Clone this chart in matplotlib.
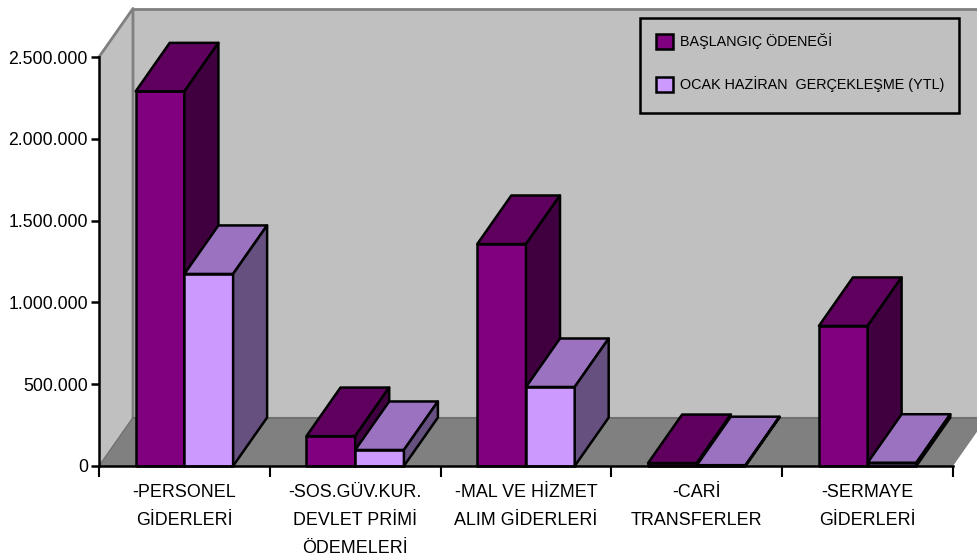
import matplotlib.pyplot as plt
from matplotlib.patches import Polygon, Patch, Rectangle

plt.rcParams['font.family'] = ['Liberation Sans', 'DejaVu Sans']

categories = ['-PERSONEL\nGİDERLERİ', '-SOS.GÜV.KUR.\nDEVLET PRİMİ\nÖDEMELERİ',
              '-MAL VE HİZMET\nALIM GİDERLERİ', '-CARİ\nTRANSFERLER', '-SERMAYE\nGİDERLERİ']
baslangic = [2290000, 183000, 1357000, 18000, 856000]
gerceklesme = [1174000, 98000, 483000, 5000, 20000]
yticks = [0, 500000, 1000000, 1500000, 2000000, 2500000]
yticklabels = ['0', '500.000', '1.000.000', '1.500.000', '2.000.000', '2.500.000']

W, H = 978, 557
# depth of the fake 3d box, in data units
dx = 34 / 170.8
dy = 48.5 / 409 * 2500000
bw = 48.7 / 170.8

fig = plt.figure(figsize=(W / 100, H / 100), dpi=100)
ax = fig.add_axes([99 / W, (H - 466) / H, 854 / W, 409 / H])
ax.set_xlim(0, 5)
ax.set_ylim(0, 2500000)
ax.patch.set_visible(False)


def poly(pts, fc, ec='none', lw=0, z=1):
    ax.add_patch(Polygon(pts, closed=True, facecolor=fc, edgecolor=ec, linewidth=lw,
                         joinstyle='round', clip_on=False, zorder=z))


ymax = 2500000
# walls and floor
poly([(dx, dy), (5.3, dy), (5.3, ymax + dy), (dx, ymax + dy)], '#c0c0c0')
poly([(0, 0), (dx, dy), (dx, ymax + dy), (0, ymax)], '#c0c0c0')
poly([(0, 0), (5, 0), (5 + dx, dy), (dx, dy)], '#808080')
ax.plot([0, dx, dx], [ymax, ymax + dy, dy], color='#808080', lw=2, clip_on=False, zorder=1.5)
ax.plot([dx, 5.3], [ymax + dy, ymax + dy], color='#808080', lw=2, clip_on=False, zorder=1.5)
ax.plot([dx, 5.3], [dy, dy], color='#707070', lw=1.5, clip_on=False, zorder=1.5)
ax.plot([0, dx], [0, dy], color='#707070', lw=1, clip_on=False, zorder=1.5)


def bar3d(x0, v, cols, z):
    front, top, side = cols
    x1 = x0 + bw
    poly([(x0, 0), (x1, 0), (x1, v), (x0, v)], front, 'black', 1.8, z)
    poly([(x0, v), (x1, v), (x1 + dx, v + dy), (x0 + dx, v + dy)], top, 'black', 1.8, z)
    poly([(x1, 0), (x1 + dx, dy), (x1 + dx, v + dy), (x1, v)], side, 'black', 1.8, z)


dark = ('#800080', '#5f005f', '#400040')
light = ('#cc99ff', '#9a72c0', '#665080')
for i in range(5):
    c = i + 0.5
    bar3d(c - bw, baslangic[i], dark, 2 + i)
    bar3d(c, gerceklesme[i], light, 2.5 + i)

for s in ['top', 'right']:
    ax.spines[s].set_visible(False)
for s in ['left', 'bottom']:
    ax.spines[s].set_linewidth(1.8)
    ax.spines[s].set_zorder(10)

ax.set_yticks(yticks)
ax.set_yticklabels(yticklabels, fontsize=12.7)
ax.tick_params(axis='y', length=6, width=1.8, pad=2)
ax.set_xticks(range(6))
ax.set_xticklabels([])
ax.tick_params(axis='x', which='major', length=8, width=1.5)
ax.set_xticks([i + 0.5 for i in range(5)], minor=True)
ax.set_xticklabels(categories, minor=True, fontsize=12.9, linespacing=1.85)
ax.tick_params(axis='x', which='minor', length=0, pad=13)

# legend box is narrower on the right than the legend's own padding allows
fig.add_artist(Rectangle((640 / W, (H - 113) / H), 319 / W, 95 / H, transform=fig.transFigure,
                         facecolor='#c0c0c0', edgecolor='black', linewidth=1.8, zorder=15))
handles = [Patch(facecolor='#800080', edgecolor='black', linewidth=1.8),
           Patch(facecolor='#cc99ff', edgecolor='black', linewidth=1.8)]
leg = fig.legend(handles, ['BAŞLANGIÇ ÖDENEĞİ', 'OCAK HAZİRAN  GERÇEKLEŞME (YTL)'],
                 loc='upper left', bbox_to_anchor=(640 / W, (H - 17) / H), fontsize=10.4,
                 frameon=False, borderaxespad=0, handlelength=1.17, handleheight=1.17,
                 handletextpad=0.45, labelspacing=1.87, borderpad=1.13)
leg.set_zorder(20)

fig.savefig('out.png', dpi=100)
